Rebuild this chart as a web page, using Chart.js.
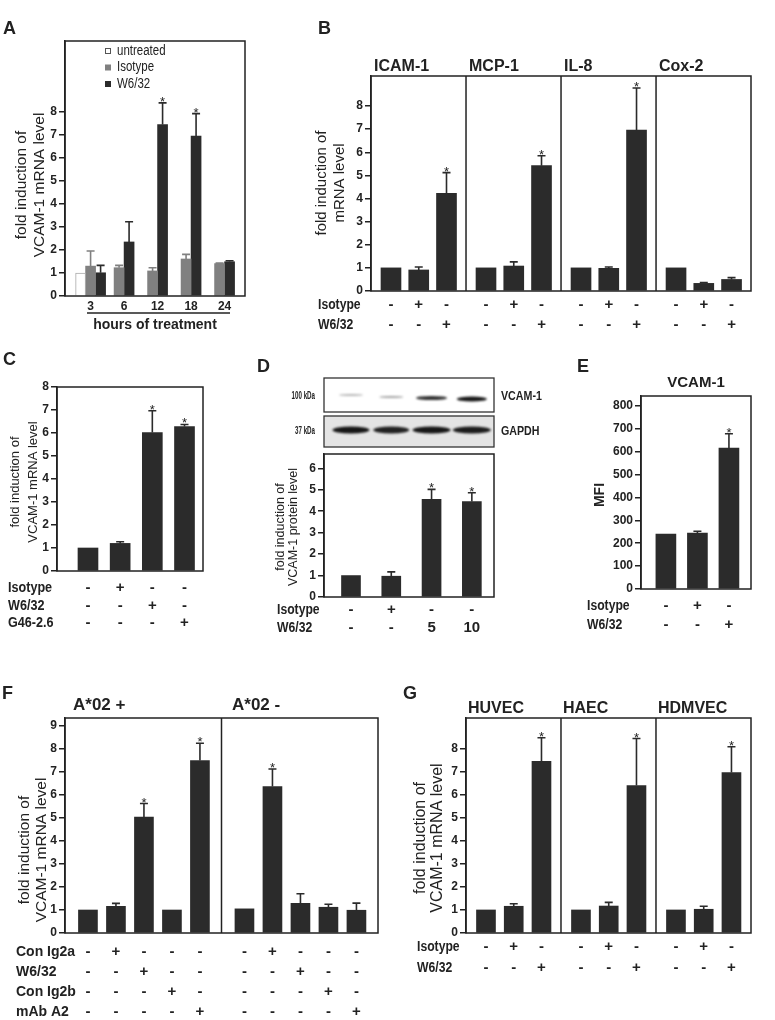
<!DOCTYPE html>
<html>
<head>
<meta charset="utf-8">
<script src="https://cdn.jsdelivr.net/npm/chart.js@4.4.1/dist/chart.umd.min.js"></script>
<style>
  html, body { margin: 0; background: #fff; }
  #fig { position: relative; width: 775px; height: 1020px; }
  #fig canvas { position: absolute; left: 0; top: 0; }
</style>
</head>
<body>
<div id="fig">
  <canvas id="panelA" width="775" height="1020"></canvas>
  <canvas id="panelB" width="775" height="1020"></canvas>
  <canvas id="panelC" width="775" height="1020"></canvas>
  <canvas id="panelD" width="775" height="1020"></canvas>
  <canvas id="panelE" width="775" height="1020"></canvas>
  <canvas id="panelF" width="775" height="1020"></canvas>
  <canvas id="panelG" width="775" height="1020"></canvas>
</div>
<script>
  // --- A: time course ---
  const hours = ['3', '6', '12', '18', '24'];
  const aUntreated = [1.0, null, null, null, null];
  const aIsotype = [1.30, 1.23, 1.09, 1.61, 1.41];
  const aIsotypeErr = [0.66, 0.10, 0.14, 0.20, 0.02];
  const aW632 = [1.01, 2.35, 7.46, 6.96, 1.49];
  const aW632Err = [0.32, 0.88, 0.94, 0.97, 0.04];
  const aStars = [2, 3];
  const mrnaTicks = [0, 1, 2, 3, 4, 5, 6, 7, 8];

  // --- B: other genes ---
  const genes = ['ICAM-1', 'MCP-1', 'IL-8', 'Cox-2'];
  const bMeans = [1.0, 0.91, 4.22, 1.0, 1.08, 5.42, 1.0, 0.98, 6.96, 1.0, 0.33, 0.50];
  const bErr = [0, 0.13, 0.90, 0, 0.18, 0.43, 0, 0.06, 1.82, 0, 0.04, 0.08];
  const bStars = [2, 5, 8];
  const isoSigns = ['-', '+', '-'];
  const w632Signs = ['-', '-', '+'];

  // --- C: G46-2.6 ---
  const cMeans = [1.0, 1.2, 6.02, 6.28];
  const cErr = [0, 0.07, 0.95, 0.09];
  const cStars = [2, 3];
  const cIsotype = ['-', '+', '-', '-'];
  const cW632 = ['-', '-', '+', '-'];
  const cG46 = ['-', '-', '-', '+'];

  // --- D: protein ---
  const dMeans = [1.0, 0.97, 4.55, 4.45];
  const dErr = [0, 0.20, 0.47, 0.41];
  const dStars = [2, 3];
  const dIsotype = ['-', '+', '-', '-'];
  const dDose = ['-', '-', '5', '10'];
  const proteinTicks = [0, 1, 2, 3, 4, 5, 6];
  const vcamBand = [0.30, 0.38, 0.85, 0.95];
  const gapdhBand = [0.95, 0.90, 0.95, 0.92];

  // --- E: MFI ---
  const eMeans = [240, 244, 615];
  const eErr = [0, 8, 63];
  const eStars = [2];
  const mfiTicks = [0, 100, 200, 300, 400, 500, 600, 700, 800];

  // --- F: A*02 ---
  const alleles = ['A*02 +', 'A*02 -'];
  const fMeans = [1.0, 1.16, 5.04, 1.0, 7.50, 1.05, 6.37, 1.29, 1.12, 0.99];
  const fErr = [0, 0.13, 0.59, 0, 0.75, 0, 0.76, 0.42, 0.13, 0.31];
  const fStars = [2, 4, 6];
  const fTicks = [0, 1, 2, 3, 4, 5, 6, 7, 8, 9];
  const fIg2a = ['-', '+', '-', '-', '-', '-', '+', '-', '-', '-'];
  const fW632 = ['-', '-', '+', '-', '-', '-', '-', '+', '-', '-'];
  const fIg2b = ['-', '-', '-', '+', '-', '-', '-', '-', '+', '-'];
  const fA2 = ['-', '-', '-', '-', '+', '-', '-', '-', '-', '+'];

  // --- G: cell types ---
  const cells = ['HUVEC', 'HAEC', 'HDMVEC'];
  const gMeans = [1.0, 1.16, 7.45, 1.0, 1.17, 6.40, 1.0, 1.03, 6.96];
  const gErr = [0, 0.11, 1.02, 0, 0.16, 2.04, 0, 0.13, 1.12];
  const gStars = [2, 5, 8];

  const SANS = "'Liberation Sans', Arial, Helvetica, sans-serif";
  const INK = '#222222';
  const BAR = '#2b2b2b';
  const GRAY = '#808080';

  function repeat(arr, n) {
    let out = [];
    for (let k = 0; k < n; k++) out = out.concat(arr);
    return out;
  }

  function groupedX(perGroup, groupWidth, offset) {
    return (i) => Math.floor(i / perGroup) * groupWidth + offset + (i % perGroup);
  }

  // sx < 1 squeezes the text sideways (no condensed face installed)
  function write(ctx, s, x, y, font, align, sx) {
    ctx.save();
    ctx.translate(x, y);
    ctx.scale(sx || 1, 1);
    ctx.font = font;
    ctx.fillStyle = INK;
    ctx.textAlign = align || 'left';
    ctx.textBaseline = 'middle';
    ctx.fillText(s, 0, 0);
    ctx.restore();
  }

  function band(ctx, cx, cy, w, h, alpha) {
    ctx.save();
    ctx.filter = 'blur(0.8px)';
    ctx.fillStyle = 'rgba(12,12,12,' + alpha + ')';
    ctx.beginPath();
    ctx.ellipse(cx, cy, w / 2, h / 2, 0, 0, Math.PI * 2);
    ctx.fill();
    ctx.restore();
  }

  // Frame, dividers, error bars, stars and all the labels around a panel
  function decor(p) {
    return {
      id: 'decor',
      afterDatasetsDraw(chart) {
        const { ctx, chartArea: a } = chart;
        const x = chart.scales.x, y = chart.scales.y;
        ctx.save();
        ctx.strokeStyle = INK;
        ctx.lineWidth = 1.5;
        ctx.strokeRect(a.left, a.top, a.right - a.left, a.bottom - a.top);
        (p.dividers || []).forEach((v) => {
          const px = x.getPixelForValue(v);
          ctx.beginPath();
          ctx.moveTo(px, a.top);
          ctx.lineTo(px, a.bottom);
          ctx.stroke();
        });

        chart.data.datasets.forEach((ds, di) => {
          const meta = chart.getDatasetMeta(di);
          meta.data.forEach((bar, i) => {
            const m = ds.data[i].y;
            if (m == null) return;
            const e = ds.err ? ds.err[i] : 0;
            const top = y.getPixelForValue(m + e);
            if (e > 0) {
              ctx.strokeStyle = ds.borderColor;
              ctx.lineWidth = 1.6;
              ctx.beginPath();
              ctx.moveTo(bar.x, bar.y);
              ctx.lineTo(bar.x, top);
              ctx.moveTo(bar.x - 4, top);
              ctx.lineTo(bar.x + 4, top);
              ctx.stroke();
            }
            if (ds.stars.includes(i)) {
              ctx.font = '13px ' + SANS;
              ctx.fillStyle = INK;
              ctx.textAlign = 'center';
              ctx.textBaseline = 'alphabetic';
              ctx.fillText('*', bar.x, top + 3);
            }
          });
        });
        ctx.restore();
      },
      afterDraw(chart) {
        const { ctx } = chart;
        const x = chart.scales.x;
        ctx.save();

        write(ctx, p.letter.t, p.letter.x, p.letter.y, 'bold 18px ' + SANS);

        (p.titles || []).forEach((t) => {
          write(ctx, t.t, t.x, t.y, 'bold ' + t.size + 'px ' + SANS, t.align);
        });

        const yt = p.yTitle;
        yt.lines.forEach((line, k) => {
          ctx.save();
          ctx.translate(yt.x + k * yt.dx, yt.y);
          ctx.rotate(-Math.PI / 2);
          write(ctx, line, 0, 0, (yt.weight || 'normal') + ' ' + yt.size + 'px ' + SANS, 'center');
          ctx.restore();
        });

        (p.rows || []).forEach((r) => {
          write(ctx, r.label, p.rowLabelX, r.y, 'bold 14px ' + SANS, 'left', p.rowSx || 0.87);
          r.signs.forEach((s, i) => {
            const px = x.getPixelForValue(p.xAt(i));
            write(ctx, s, px, r.y, 'bold 15px ' + SANS, 'center');
          });
        });

        if (p.legend) {
          chart.data.datasets.forEach((ds, k) => {
            const ly = p.legend.y + k * p.legend.dy;
            ctx.fillStyle = ds.backgroundColor;
            ctx.fillRect(p.legend.x, ly - 3, 6, 6);
            if (ds.borderWidth) {
              ctx.strokeStyle = '#555';
              ctx.lineWidth = 1;
              ctx.strokeRect(p.legend.x + 0.5, ly - 2.5, 5, 5);
            }
            write(ctx, ds.label, p.legend.x + 12, ly, '14px ' + SANS, 'left', 0.82);
          });
        }

        if (p.underline) {
          const u = p.underline;
          ctx.strokeStyle = INK;
          ctx.lineWidth = 1.5;
          ctx.beginPath();
          ctx.moveTo(u.x1, u.y);
          ctx.lineTo(u.x2, u.y);
          ctx.stroke();
        }

        if (p.blot) {
          const b = p.blot;
          ctx.fillStyle = '#e4e4e4';
          ctx.fillRect(b.l, b.t2, b.r - b.l, b.b2 - b.t2);
          ctx.strokeStyle = '#333';
          ctx.lineWidth = 1.3;
          ctx.strokeRect(b.l, b.t1, b.r - b.l, b.b1 - b.t1);
          ctx.strokeRect(b.l, b.t2, b.r - b.l, b.b2 - b.t2);
          vcamBand.forEach((v, i) => {
            const px = x.getPixelForValue(p.xAt(i));
            band(ctx, px, b.vY[i], b.vW[i], b.vH[i], v);
          });
          gapdhBand.forEach((v, i) => {
            const px = x.getPixelForValue(p.xAt(i));
            band(ctx, px, b.gY, b.gW[i], 7, v);
          });
          write(ctx, '100 kDa', b.l - 9, (b.t1 + b.b1) / 2 + 1, 'bold 10px ' + SANS, 'right', 0.62);
          write(ctx, '37 kDa', b.l - 9, (b.t2 + b.b2) / 2, 'bold 10px ' + SANS, 'right', 0.62);
          write(ctx, 'VCAM-1', b.r + 7, (b.t1 + b.b1) / 2 + 1, 'bold 13px ' + SANS, 'left', 0.82);
          write(ctx, 'GAPDH', b.r + 7, (b.t2 + b.b2) / 2, 'bold 13px ' + SANS, 'left', 0.82);
        }
        ctx.restore();
      }
    };
  }

  function drawPanel(id, p) {
    const canvas = document.getElementById(id);
    const W = canvas.width, H = canvas.height;
    const yw = 40;
    const xh = p.xTicks ? 38 : 0;
    return new Chart(canvas, {
      type: 'bar',
      data: {
        datasets: p.series.map((s) => ({
          label: s.label,
          data: s.values.map((v, i) => ({ x: p.xAt(i), y: v })),
          err: s.err || null,
          stars: s.stars || [],
          backgroundColor: s.color,
          borderColor: s.border || s.color,
          borderWidth: s.border ? 1 : 0,
          barThickness: p.barW,
          skipNull: true
        }))
      },
      options: {
        responsive: false,
        animation: false,
        events: [],
        layout: {
          padding: { left: p.box.l - yw, top: p.box.t, right: W - p.box.r, bottom: H - p.box.b - xh }
        },
        plugins: { legend: { display: false }, tooltip: { enabled: false } },
        scales: {
          x: {
            type: 'linear',
            min: p.xMin,
            max: p.xMax,
            offset: false,
            display: !!p.xTicks,
            grid: { display: false, drawTicks: false },
            border: { display: false },
            afterBuildTicks: (s) => { s.ticks = (p.xTicks || []).map((t, i) => ({ value: p.xAt(i) })); },
            afterFit: (s) => { s.height = xh; },
            ticks: {
              callback: (v, i) => (p.xTicks ? p.xTicks[i] : ''),
              color: INK,
              font: { family: SANS, size: 12, weight: 'bold' },
              padding: 3,
              autoSkip: false,
              maxRotation: 0
            },
            title: {
              display: !!p.xTitle,
              text: p.xTitle,
              color: INK,
              font: { family: SANS, size: 14, weight: 'bold' },
              padding: 0
            }
          },
          y: {
            min: 0,
            max: p.yMax,
            afterBuildTicks: (s) => { s.ticks = p.yTicks.map((v) => ({ value: v })); },
            afterFit: (s) => { s.width = yw; },
            grid: { drawOnChartArea: false, tickLength: 6, color: INK, lineWidth: 1.5 },
            border: { color: INK, width: 1.5 },
            ticks: { color: INK, font: { family: SANS, size: 12, weight: 'bold' }, padding: 2 }
          }
        }
      },
      plugins: [decor(p)]
    });
  }

  // Panel A
  drawPanel('panelA', {
    letter: { t: 'A', x: 3, y: 29 },
    box: { l: 65, t: 41, r: 245, b: 296 },
    yMax: 11.09, yTicks: mrnaTicks,
    xAt: (i) => i, xMin: -0.764, xMax: 4.61, barW: 10,
    series: [
      { label: 'untreated', values: aUntreated, color: '#ffffff', border: '#aaaaaa' },
      { label: 'Isotype', values: aIsotype, err: aIsotypeErr, color: GRAY },
      { label: 'W6/32', values: aW632, err: aW632Err, color: BAR, stars: aStars }
    ],
    xTicks: hours, xTitle: 'hours of treatment',
    legend: { x: 105, y: 51, dy: 16.5 },
    underline: { x1: 87, x2: 230, y: 313 },
    yTitle: { lines: ['fold induction of', 'VCAM-1 mRNA level'], x: 22, dx: 18, y: 185, size: 15.5 }
  });

  // Panel B
  drawPanel('panelB', {
    letter: { t: 'B', x: 318, y: 29 },
    box: { l: 371, t: 76, r: 751, b: 291 },
    yMax: 9.3, yTicks: mrnaTicks,
    xAt: groupedX(3, 3.423, 0.72), xMin: 0, xMax: 13.69, barW: 20,
    dividers: [3.423, 6.846, 10.269],
    series: [{ label: 'fold induction', values: bMeans, err: bErr, color: BAR, stars: bStars }],
    titles: genes.map((g, k) => ({ t: g, x: 374 + k * 95, y: 67, size: 16 })),
    yTitle: { lines: ['fold induction of', 'mRNA level'], x: 322, dx: 18, y: 183, size: 15 },
    rowLabelX: 318,
    rows: [
      { label: 'Isotype', signs: repeat(isoSigns, 4), y: 305 },
      { label: 'W6/32', signs: repeat(w632Signs, 4), y: 325 }
    ]
  });

  // Panel C
  drawPanel('panelC', {
    letter: { t: 'C', x: 3, y: 360 },
    box: { l: 57, t: 387, r: 203, b: 571 },
    yMax: 8, yTicks: mrnaTicks,
    xAt: (i) => i, xMin: -0.963, xMax: 3.575, barW: 20,
    series: [{ label: 'fold induction', values: cMeans, err: cErr, color: BAR, stars: cStars }],
    yTitle: { lines: ['fold induction of', 'VCAM-1 mRNA level'], x: 15, dx: 18, y: 482, size: 13 },
    rowLabelX: 8, rowSx: 0.9,
    rows: [
      { label: 'Isotype', signs: cIsotype, y: 588 },
      { label: 'W6/32', signs: cW632, y: 606 },
      { label: 'G46-2.6', signs: cG46, y: 623 }
    ]
  });

  // Panel D
  drawPanel('panelD', {
    letter: { t: 'D', x: 257, y: 367 },
    box: { l: 324, t: 454, r: 494, b: 597 },
    yMax: 6.67, yTicks: proteinTicks,
    xAt: (i) => i, xMin: -0.67, xMax: 3.55, barW: 19,
    series: [{ label: 'fold induction', values: dMeans, err: dErr, color: BAR, stars: dStars }],
    yTitle: { lines: ['fold induction of', 'VCAM-1 protein level'], x: 281, dx: 13, y: 527, size: 12.5 },
    rowLabelX: 277,
    rows: [
      { label: 'Isotype', signs: dIsotype, y: 610 },
      { label: 'W6/32', signs: dDose, y: 628 }
    ],
    blot: {
      l: 324, r: 494, t1: 378, b1: 412, t2: 416, b2: 447,
      vY: [395, 397, 398, 399], vW: [24, 24, 31, 30], vH: [2.2, 2.2, 4.2, 5.2],
      gY: 430, gW: [37, 36, 38, 38]
    }
  });

  // Panel E
  drawPanel('panelE', {
    letter: { t: 'E', x: 577, y: 367 },
    box: { l: 641, t: 396, r: 751, b: 589 },
    yMax: 843, yTicks: mfiTicks,
    xAt: (i) => i, xMin: -0.79, xMax: 2.7, barW: 20,
    series: [{ label: 'MFI', values: eMeans, err: eErr, color: BAR, stars: eStars }],
    titles: [{ t: 'VCAM-1', x: 696, y: 383, size: 15, align: 'center' }],
    yTitle: { lines: ['MFI'], x: 600, dx: 0, y: 495, size: 14, weight: 'bold' },
    rowLabelX: 587,
    rows: [
      { label: 'Isotype', signs: isoSigns, y: 606 },
      { label: 'W6/32', signs: w632Signs, y: 625 }
    ]
  });

  // Panel F
  drawPanel('panelF', {
    letter: { t: 'F', x: 2, y: 694 },
    box: { l: 65, t: 718, r: 378, b: 933 },
    yMax: 9.35, yTicks: fTicks,
    xAt: groupedX(5, 5.59, 0.82), xMin: 0, xMax: 11.18, barW: 19,
    dividers: [5.59],
    series: [{ label: 'fold induction', values: fMeans, err: fErr, color: BAR, stars: fStars }],
    titles: alleles.map((t, k) => ({ t: t, x: [73, 232][k], y: 705, size: 17 })),
    yTitle: { lines: ['fold induction of', 'VCAM-1 mRNA level'], x: 25, dx: 17, y: 850, size: 15.5 },
    rowLabelX: 16, rowSx: 1,
    rows: [
      { label: 'Con Ig2a', signs: fIg2a, y: 952 },
      { label: 'W6/32', signs: fW632, y: 972 },
      { label: 'Con Ig2b', signs: fIg2b, y: 992 },
      { label: 'mAb A2', signs: fA2, y: 1012 }
    ]
  });

  // Panel G
  drawPanel('panelG', {
    letter: { t: 'G', x: 403, y: 694 },
    box: { l: 466, t: 718, r: 751, b: 933 },
    yMax: 9.33, yTicks: mrnaTicks,
    xAt: groupedX(3, 3.423, 0.72), xMin: 0, xMax: 10.27, barW: 19,
    dividers: [3.423, 6.846],
    series: [{ label: 'fold induction', values: gMeans, err: gErr, color: BAR, stars: gStars }],
    titles: cells.map((c, k) => ({ t: c, x: 468 + k * 95, y: 709, size: 16 })),
    yTitle: { lines: ['fold induction of', 'VCAM-1 mRNA level'], x: 421, dx: 17, y: 838, size: 16 },
    rowLabelX: 417,
    rows: [
      { label: 'Isotype', signs: repeat(isoSigns, 3), y: 947 },
      { label: 'W6/32', signs: repeat(w632Signs, 3), y: 968 }
    ]
  });
</script>
</body>
</html>
